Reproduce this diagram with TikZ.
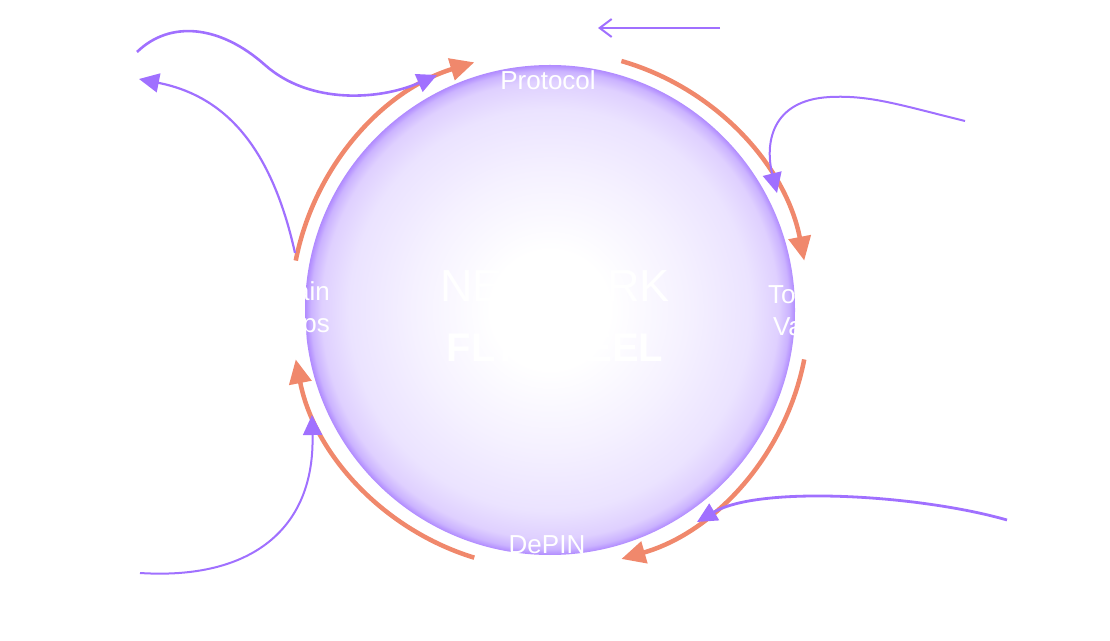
\documentclass[tikz,border=0pt]{standalone}
\usepackage{fontspec}
\setmainfont{Liberation Sans}
\usetikzlibrary{arrows.meta}
\definecolor{flyorange}{HTML}{F0886C}
\definecolor{flypurple}{HTML}{A070FF}
\definecolor{orbedge}{HTML}{B08AFF}
\definecolor{orbdeep}{HTML}{CBB3FF}
\definecolor{orbrim}{HTML}{DFD0FF}
\definecolor{orbmid}{HTML}{EBE3FF}
\definecolor{orbsoft}{HTML}{F5F1FF}
\pgfdeclareradialshading{orbshade}{\pgfpoint{0bp}{0bp}}{color(0bp)=(white); color(6bp)=(white); color(14bp)=(orbsoft); color(20.5bp)=(orbmid); color(23.3bp)=(orbrim); color(24.4bp)=(orbdeep); color(25bp)=(orbedge); color(50bp)=(orbedge)}
\begin{document}
\begin{tikzpicture}[x=1pt, y=1pt, every node/.style={text=white, inner sep=0pt},
  orb/.style={circle, minimum size=490pt, shading=orbshade},
  lbl/.style={font=\fontsize{26}{32}\selectfont},
  spin/.style={flyorange, line width=4.5pt, -{Triangle[length=24pt,width=22pt]}},
  feed/.style={flypurple, line width=2.6pt, -{Triangle[length=20pt,width=19pt]}}]
			\useasboundingbox (0,0) rectangle (1110,640);
			\node[orb] (wheel) at (550,330) {};
			\node[font=\fontsize{45}{50}\selectfont, anchor=base] (network) at (555,338) {NETWORK};
			\node[font=\fontsize{40}{46}\selectfont\bfseries, anchor=base] (flywheel) at (555,278) {FLYWHEEL};
			\node[lbl, anchor=base] (protocol) at (548,550) {Protocol};
			\node[lbl, anchor=base] (depin) at (547,87) {DePIN};
			\node[lbl, anchor=east, align=right] (apps) at (330,330) {Onchain\\Apps};
			\node[lbl, anchor=west, align=right] (token) at (768,330) {Token\\Value};
			
			\path (wheel.center) ++(169:259) coordinate (a1);
			\path (wheel.center) ++(74:259) coordinate (a2);
			\path (wheel.center) ++(-11:259) coordinate (a3);
			\path (wheel.center) ++(-107:259) coordinate (a4);
			\draw[spin] (a1) arc[start angle=169, end angle=107, radius=259];
			\draw[spin] (a2) arc[start angle=74, end angle=11, radius=259];
			\draw[spin] (a3) arc[start angle=-11, end angle=-74, radius=259];
			\draw[spin] (a4) arc[start angle=-107, end angle=-169, radius=259];
			
			\coordinate (w1) at (137,588);
			\coordinate (w2) at (437,565);
			\coordinate (l1) at (295,387);
			\coordinate (l2) at (139,561);
			\coordinate (r1) at (965,519);
			\coordinate (r2) at (777,447);
			\coordinate (b1) at (1007,120);
			\coordinate (b2) at (697,118);
			\coordinate (d1) at (140,67);
			\coordinate (d2) at (312,225);
			\coordinate (t1) at (720,612);
			\coordinate (t2) at (598,612);
			
			\draw[feed] (w1) .. controls (170,620) and (220,615) .. (265,575) .. controls (310,535) and (380,540) .. (w2);
			\draw[feed, line width=2.2pt] (l1) .. controls (270,500) and (220,545) .. (l2);
			\draw[feed, line width=2pt] (r1) .. controls (900,535) and (870,545) .. (830,543) .. controls (770,540) and (765,495) .. (r2);
			\draw[feed, line width=2.8pt] (b1) .. controls (920,145) and (760,155) .. (b2);
			\draw[feed, line width=2pt] (d1) .. controls (250,60) and (315,110) .. (d2);
			\draw[flypurple, line width=2pt, -{Straight Barb[length=12pt,width=18pt]}] (t1) -- (t2);
		\end{tikzpicture}
\end{document}
